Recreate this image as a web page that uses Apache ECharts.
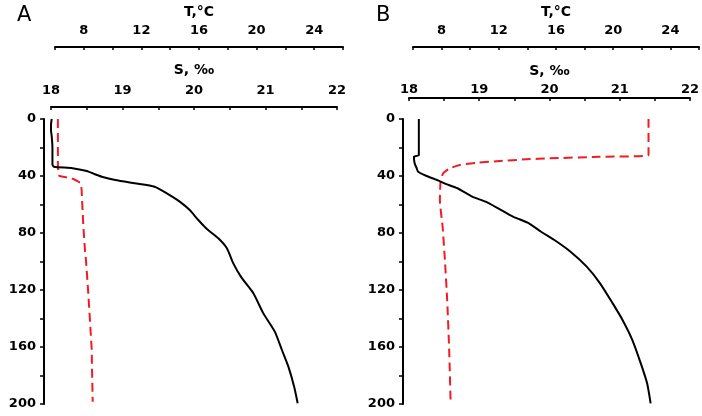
<!DOCTYPE html>
<html>
<head>
<meta charset="utf-8">
<script src="https://cdn.jsdelivr.net/npm/echarts@6/dist/echarts.min.js"></script>
<style>
html,body{margin:0;padding:0;background:#fff;}
#chart{width:702px;height:416px;}
</style>
</head>
<body>
<div id="chart"></div>
<script>
// ---- Data ----
// Panel A: salinity (S, ‰) profile
const depthA_S = [0, 4, 8, 12, 20, 32, 33.5, 34.5, 36.5, 38.5, 40.5, 42.8, 45.1, 47.5, 52.2, 58, 63.9, 70.9, 77.2, 83.7, 90.7, 101.3, 111, 122.3, 136.4, 149.2, 162.1, 173.8, 187.8, 199.5];
const salA = [18.01, 18.0, 18.0, 18.01, 18.02, 18.02, 18.04, 18.3, 18.5, 18.6, 18.71, 18.9, 19.17, 19.45, 19.62, 19.80, 19.94, 20.06, 20.18, 20.34, 20.46, 20.55, 20.66, 20.83, 20.97, 21.13, 21.23, 21.32, 21.40, 21.45];
// Panel A: temperature (T, °C) profile
const depthA_T = [0, 34, 40, 41.6, 43.5, 45.1, 50, 56.8, 75.6, 92, 98.9, 122, 150, 162, 175, 198.4];
const tempA = [6.2, 6.2, 6.3, 7.16, 7.55, 7.8, 7.85, 7.88, 7.97, 8.08, 8.15, 8.31, 8.48, 8.55, 8.57, 8.62];
// Panel B: salinity profile
const depthB_S = [0, 25.3, 26.4, 31.1, 34.6, 37, 40, 42.8, 45.5, 48.6, 54.5, 58, 62.7, 68.5, 72.8, 79.1, 84.9, 93.1, 103.6, 115.3, 129.4, 141, 155.1, 171.5, 185.5, 199.5];
const salB = [18.14, 18.14, 18.07, 18.08, 18.11, 18.13, 18.25, 18.4, 18.52, 18.69, 18.9, 19.09, 19.27, 19.48, 19.69, 19.88, 20.07, 20.30, 20.53, 20.72, 20.90, 21.04, 21.18, 21.30, 21.39, 21.44];
// Panel B: temperature profile
const depthB_T = [0, 25.3, 26.5, 27.6, 28.3, 29.5, 30.7, 32.3, 34.6, 38.1, 44, 56.8, 75.6, 98.9, 127, 162, 198.4];
const tempB = [22.47, 22.47, 19.03, 15.55, 13.92, 12.06, 10.44, 9.28, 8.58, 8.11, 7.93, 7.88, 8.07, 8.23, 8.39, 8.53, 8.63];
// Axis tick labels
const depthLabels = [0, 40, 80, 120, 160, 200];
const salLabels = [18, 19, 20, 21, 22];
const tempLabels = [8, 12, 16, 20, 24];
const panelLabels = ['A', 'B'];

const FONT = 'DejaVu Sans';
const labelStyle = {fontFamily: FONT, fontWeight: 'bold', fontSize: 13, color: '#000'};
const nameStyle = {fontFamily: FONT, fontWeight: 'bold', fontSize: 14, color: '#000'};
const zip = (xs, ys) => xs.map((x, i) => [x, ys[i]]);

function depthAxis(grid, offset) {
  return {
    gridIndex: grid, type: 'value', inverse: true, min: 0, max: 200, interval: 20,
    position: 'left', offset: offset,
    axisLine: {show: true, onZero: false, lineStyle: {color: '#000', width: 2}},
    axisTick: {show: true, length: 4, lineStyle: {color: '#000', width: 1.5}},
    axisLabel: Object.assign({margin: 8, formatter: v => depthLabels.includes(v) ? String(v) : ''}, labelStyle),
    splitLine: {show: false}
  };
}
function hiddenY(grid) {
  return {gridIndex: grid, type: 'value', inverse: true, min: 0, max: 200, show: false, splitLine: {show: false}};
}
function salAxis(grid, offset, margin, nameGap) {
  return {
    gridIndex: grid, type: 'value', position: 'top', min: 18, max: 22, interval: 0.5, offset: offset,
    axisLine: {show: true, onZero: false, lineStyle: {color: '#000', width: 2}},
    axisTick: {show: true, inside: true, length: 3, lineStyle: {color: '#000', width: 1.5}},
    axisLabel: Object.assign({margin: margin, formatter: v => salLabels.includes(v) ? String(v) : ''}, labelStyle),
    splitLine: {show: false},
    name: 'S, ‰', nameLocation: 'middle', nameGap: nameGap,
    nameTextStyle: Object.assign({}, nameStyle)
  };
}
function tempAxis(grid, offset) {
  return {
    gridIndex: grid, type: 'value', position: 'top', min: 6, max: 26, interval: 2, offset: offset,
    axisLine: {show: true, onZero: false, lineStyle: {color: '#000', width: 2}},
    axisTick: {show: true, inside: true, length: 3, lineStyle: {color: '#000', width: 1.5}},
    axisLabel: Object.assign({margin: 10, formatter: v => tempLabels.includes(v) ? String(v) : ''}, labelStyle),
    splitLine: {show: false},
    name: 'T,°C', nameLocation: 'middle', nameGap: 28,
    nameTextStyle: Object.assign({}, nameStyle)
  };
}

const chart = echarts.init(document.getElementById('chart'), null, {renderer: 'canvas'});
const option = {
  animation: false,
  backgroundColor: '#fff',
  grid: [
    {left: 51, top: 119, width: 286, height: 285},
    {left: 55, top: 119, width: 288, height: 285},
    {left: 409, top: 119, width: 286, height: 285},
    {left: 413, top: 119, width: 287, height: 285}
  ],
  xAxis: [
    salAxis(0, 12, 10, 30),
    tempAxis(1, 72),
    salAxis(2, 21, 2, 20),
    tempAxis(3, 72)
  ],
  yAxis: [depthAxis(0, 7), hiddenY(1), depthAxis(2, 6), hiddenY(3)],
  graphic: [
    {type: 'text', left: 17, top: 5, style: {text: panelLabels[0], font: '21px "DejaVu Sans"', fill: '#000'}},
    {type: 'text', left: 376, top: 5, style: {text: panelLabels[1], font: '21px "DejaVu Sans"', fill: '#000'}}
  ],
  series: [
    {type: 'line', xAxisIndex: 0, yAxisIndex: 0, data: zip(salA, depthA_S), showSymbol: false, symbol: 'none',
     smooth: 0.2,
     lineStyle: {color: '#000', width: 2}, z: 3},
    {type: 'line', xAxisIndex: 1, yAxisIndex: 1, data: zip(tempA, depthA_T), showSymbol: false, symbol: 'none',
     lineStyle: {color: '#ee1c25', width: 2, type: [9, 5]}, z: 2},
    {type: 'line', xAxisIndex: 2, yAxisIndex: 2, data: zip(salB, depthB_S), showSymbol: false, symbol: 'none',
     smooth: 0.2,
     lineStyle: {color: '#000', width: 2}, z: 3},
    {type: 'line', xAxisIndex: 3, yAxisIndex: 3, data: zip(tempB, depthB_T), showSymbol: false, symbol: 'none',
     smooth: 0.2,
     lineStyle: {color: '#ee1c25', width: 2, type: [9, 5]}, z: 2}
  ]
};
chart.setOption(option);
</script>
</body>
</html>
